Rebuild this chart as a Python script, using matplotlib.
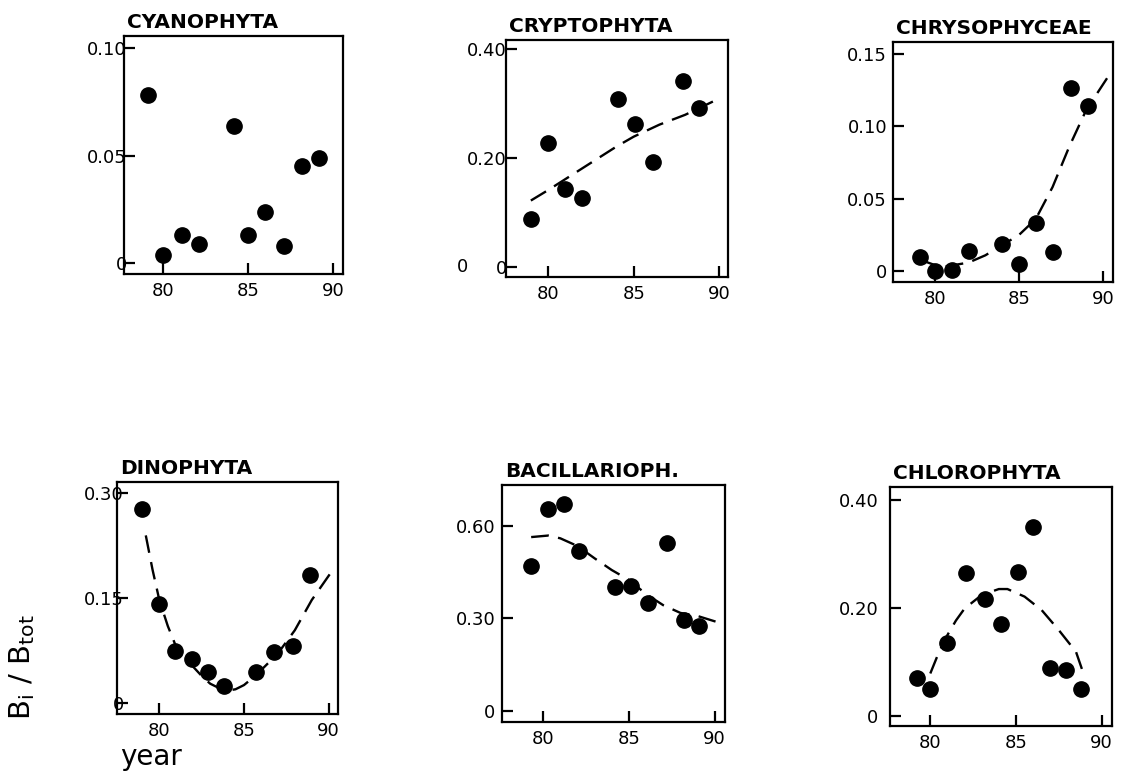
import matplotlib
matplotlib.use('Agg')
from matplotlib import pyplot as plt

# --- data (year, B_i / B_tot) ---
titles = ['CYANOPHYTA', 'CRYPTOPHYTA', 'CHRYSOPHYCEAE',
          'DINOPHYTA', 'BACILLARIOPH.', 'CHLOROPHYTA']

cyano_x = [79.1, 80.0, 81.1, 82.1, 84.2, 85.0, 86.0, 87.1, 88.2, 89.2]
cyano_y = [0.078, 0.004, 0.013, 0.009, 0.064, 0.013, 0.024, 0.008, 0.045, 0.049]

crypto_x = [79.0, 80.0, 81.0, 82.0, 84.1, 85.1, 86.1, 87.9, 88.8]
crypto_y = [0.089, 0.227, 0.144, 0.127, 0.308, 0.262, 0.192, 0.341, 0.292]
crypto_fit_x = [79.0, 80.0, 82.0, 84.0, 85.0, 86.5, 88.0, 89.8]
crypto_fit_y = [0.122, 0.141, 0.181, 0.221, 0.239, 0.261, 0.279, 0.306]

chryso_x = [79.1, 80.0, 81.0, 82.0, 84.0, 85.0, 86.0, 87.0, 88.1, 89.1]
chryso_y = [0.010, 0.000, 0.001, 0.014, 0.019, 0.005, 0.033, 0.013, 0.126, 0.114]
chryso_fit_x = [79.1, 80.3, 81.0, 82.0, 83.0, 84.0, 85.0, 86.0, 87.0, 88.0, 89.0, 90.3]
chryso_fit_y = [0.008, 0.003, 0.004, 0.006, 0.011, 0.018, 0.025, 0.036, 0.058, 0.086, 0.111, 0.134]

dino_x = [79.0, 80.0, 80.9, 81.9, 82.9, 83.8, 85.7, 86.8, 87.9, 88.9]
dino_y = [0.277, 0.142, 0.074, 0.063, 0.044, 0.024, 0.044, 0.073, 0.081, 0.182]
dino_fit_x = [79.2, 79.6, 80.0, 80.5, 81.0, 81.5, 82.0, 82.5, 83.0, 83.5, 84.0,
              84.5, 85.0, 85.5, 86.0, 87.0, 88.0, 89.0, 90.1]
dino_fit_y = [0.239, 0.190, 0.147, 0.110, 0.080, 0.063, 0.052, 0.039, 0.028, 0.022, 0.018,
              0.020, 0.026, 0.036, 0.047, 0.071, 0.104, 0.147, 0.185]

bacil_x = [79.3, 80.3, 81.2, 82.1, 84.2, 85.1, 86.1, 87.2, 88.2, 89.1]
bacil_y = [0.471, 0.654, 0.672, 0.520, 0.403, 0.406, 0.351, 0.546, 0.295, 0.277]
bacil_fit_x = [79.3, 80.3, 81.0, 82.0, 83.0, 84.0, 85.0, 86.0, 87.0, 88.0, 89.0, 90.1]
bacil_fit_y = [0.564, 0.569, 0.560, 0.535, 0.495, 0.457, 0.425, 0.379, 0.343, 0.318, 0.308, 0.289]

chloro_x = [79.2, 80.0, 81.0, 82.1, 83.2, 84.1, 85.1, 86.0, 87.0, 87.9, 88.8]
chloro_y = [0.070, 0.051, 0.135, 0.264, 0.216, 0.170, 0.267, 0.349, 0.090, 0.086, 0.051]
chloro_fit_x = [80.0, 80.5, 81.0, 81.5, 82.0, 83.0, 84.0, 84.5, 85.5, 86.5, 87.5, 88.5, 89.0]
chloro_fit_y = [0.079, 0.118, 0.150, 0.177, 0.199, 0.224, 0.235, 0.235, 0.221, 0.196, 0.159, 0.119, 0.073]

points = [(cyano_x, cyano_y), (crypto_x, crypto_y), (chryso_x, chryso_y),
          (dino_x, dino_y), (bacil_x, bacil_y), (chloro_x, chloro_y)]
fits = [None, (crypto_fit_x, crypto_fit_y), (chryso_fit_x, chryso_fit_y),
        (dino_fit_x, dino_fit_y), (bacil_fit_x, bacil_fit_y), (chloro_fit_x, chloro_fit_y)]

y_ticks = [[0, 0.05, 0.10], [0, 0.20, 0.40], [0, 0.05, 0.10, 0.15],
           [0, 0.15, 0.30], [0, 0.30, 0.60], [0, 0.20, 0.40]]
y_tick_labels = [['0', '0.05', '0.10'], ['0', '0.20', '0.40'], ['0', '0.05', '0.10', '0.15'],
                 ['0', '0.15', '0.30'], ['0', '0.30', '0.60'], ['0', '0.20', '0.40']]
x_ticks = [80, 85, 90]

# --- layout (pixels in a 1126x775 canvas: left, right, top, bottom) ---
W, H = 1126, 775
boxes = [(124, 343, 36, 274), (506, 728, 40, 277), (893, 1113, 42, 282),
         (117, 338, 482, 714), (502, 725, 485, 722), (890, 1112, 487, 726)]
x_lims = [(77.7, 90.6), (77.55, 90.5), (77.5, 90.6),
          (77.5, 90.55), (77.6, 90.6), (77.65, 90.6)]
y_lims = [(-0.005, 0.1056), (-0.018, 0.416), (-0.0074, 0.158),
          (-0.0152, 0.315), (-0.036, 0.733), (-0.018, 0.4235)]
y_pads = [-2, -0.5, 4.3, -5, 4.8, 8.4]

fig = plt.figure(figsize=(W / 100, H / 100), dpi=100)

for i, (left, right, top, bottom) in enumerate(boxes):
    ax = fig.add_axes([left / W, 1 - bottom / H, (right - left) / W, (bottom - top) / H])
    px, py = points[i]
    ax.plot(px, py, 'o', color='black', markersize=11, clip_on=False)
    if fits[i] is not None:
        fx, fy = fits[i]
        ax.plot(fx, fy, color='black', linewidth=1.7, linestyle=(0, (7.5, 4)))
    ax.set_xlim(*x_lims[i])
    ax.set_ylim(*y_lims[i])
    ax.set_xticks(x_ticks)
    ax.set_yticks(y_ticks[i])
    ax.set_yticklabels(y_tick_labels[i])
    ax.tick_params(direction='in', length=8, width=1.6, labelsize=13)
    ax.tick_params(axis='x', pad=6)
    ax.tick_params(axis='y', pad=y_pads[i])
    for s in ax.spines.values():
        s.set_linewidth(1.6)
    ax.set_title(titles[i], loc='left', fontsize=14.5, fontweight='bold', pad=6, x=0.015)

# stray "0" next to the CRYPTOPHYTA axis in the original
fig.text(462 / W, 1 - 267 / H, '0', fontsize=13, ha='center', va='center')

fig.text(22 / W, 1 - 667 / H, r'$\mathregular{B_i\ /\ B_{tot}}$', fontsize=21,
         rotation=90, ha='center', va='center')
fig.text(151 / W, 1 - 757 / H, 'year', fontsize=20, ha='center', va='center')

fig.savefig('out.png', dpi=100)
